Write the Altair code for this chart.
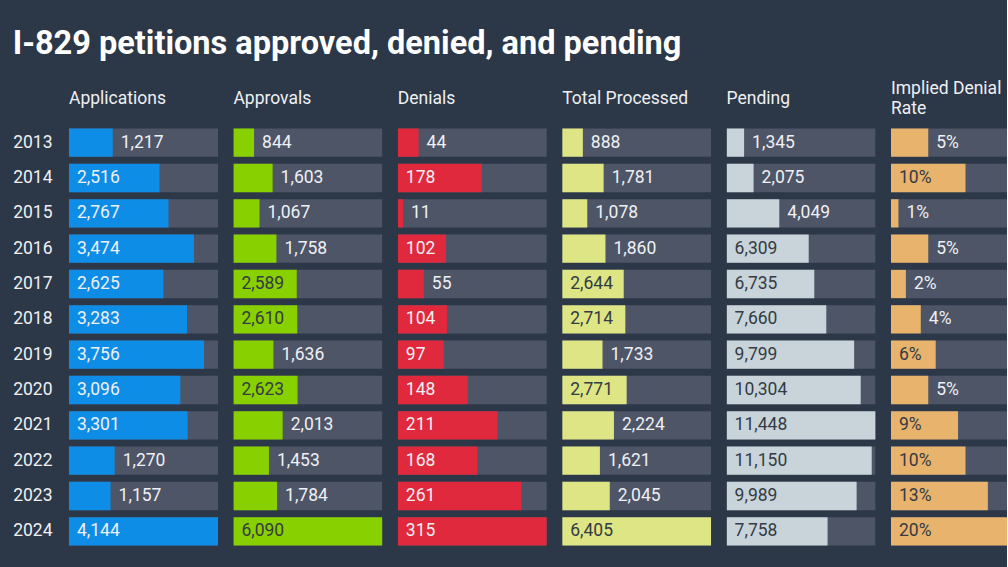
import altair as alt
import pandas as pd

years = [2013, 2014, 2015, 2016, 2017, 2018, 2019, 2020, 2021, 2022, 2023, 2024]
applications = [1217, 2516, 2767, 3474, 2625, 3283, 3756, 3096, 3301, 1270, 1157, 4144]
approvals = [844, 1603, 1067, 1758, 2589, 2610, 1636, 2623, 2013, 1453, 1784, 6090]
denials = [44, 178, 11, 102, 55, 104, 97, 148, 211, 168, 261, 315]
total_processed = [888, 1781, 1078, 1860, 2644, 2714, 1733, 2771, 2224, 1621, 2045, 6405]
pending = [1345, 2075, 4049, 6309, 6735, 7660, 9799, 10304, 11448, 11150, 9989, 7758]
denial_rate = [5, 10, 1, 5, 2, 4, 6, 5, 9, 10, 13, 20]

BG = "#2c3747"
TRACK = "#4e5567"
LIGHT = "#eef0f3"
DARK = "#343b44"
FONT = "Roboto"
FS = 17.5
PANEL_W = 149
LAST_W = 116
PANEL_H = 424

panels_spec = [
    ("Applications", applications, "#0e8de6", LIGHT, False),
    ("Approvals", approvals, "#88d000", DARK, False),
    ("Denials", denials, "#e0293d", LIGHT, False),
    ("Total Processed", total_processed, "#dde585", DARK, False),
    ("Pending", pending, "#c8d4da", DARK, False),
    (["Implied Denial", "Rate"], denial_rate, "#e8b36c", DARK, True),
]


def est_width(s):
    w = 0.0
    for ch in s:
        if ch.isdigit():
            w += 9.8
        elif ch == ",":
            w += 4.4
        else:
            w += 14.8
    return w


panels = []
n = len(panels_spec)
for i, (title, vals, color, in_color, pct) in enumerate(panels_spec):
    mx = max(vals)
    labels = [f"{v}%" if pct else f"{v:,}" for v in vals]
    inside = [v / mx * PANEL_W > est_width(l) + 14 for v, l in zip(vals, labels)]
    df = pd.DataFrame({
        "year": [str(y) for y in years],
        "value": vals,
        "full": [mx] * len(vals),
        "label": labels,
        "inside": inside,
        "labelx": [0 if ins else v for v, ins in zip(vals, inside)],
    })
    if i == 0:
        yaxis = alt.Axis(title=None, domain=False, ticks=False, labelPadding=17,
                         labelFontSize=FS, labelColor=LIGHT, labelFont=FONT)
    else:
        yaxis = None
    y = alt.Y("year:O", sort=[str(y) for y in years],
              scale=alt.Scale(paddingInner=0.2, paddingOuter=0.1), axis=yaxis)
    xscale = alt.Scale(nice=False, zero=True, range=[0, PANEL_W])
    is_last = i == n - 1
    base = alt.Chart(df)
    track = base.mark_bar(color=TRACK, clip=True).encode(
        y=y, x=alt.X("full:Q", scale=xscale, axis=None))
    bar = base.mark_bar(color=color, clip=True).encode(
        y=y, x=alt.X("value:Q", scale=xscale, axis=None))
    text = base.mark_text(align="left", baseline="middle", dx=8, fontSize=FS,
                          font=FONT, clip=True).encode(
        y=y,
        x=alt.X("labelx:Q", scale=xscale, axis=None),
        text="label:N",
        color=alt.condition("datum.inside", alt.value(in_color), alt.value(LIGHT)),
    )
    two_line = isinstance(title, list)
    panel = alt.layer(track, bar, text).properties(
        width=LAST_W if is_last else PANEL_W,
        height=PANEL_H,
        title=alt.TitleParams(text=title, anchor="start", frame="group", fontSize=FS,
                              font=FONT, fontWeight="normal", color=LIGHT, lineHeight=20,
                              offset=8 if two_line else 18),
    )
    panels.append(panel)

chart = alt.hconcat(*panels, spacing=15.4).properties(
    title=alt.TitleParams(
        text="I-829 petitions approved, denied, and pending",
        anchor="start", fontSize=32.5, font=FONT, fontWeight="bold",
        color="#ffffff", offset=19, dx=0,
    ),
    background=BG,
    padding={"left": 12, "top": 28, "right": 0, "bottom": 20},
).configure_view(strokeWidth=0).configure_concat(spacing=15.4)

chart.save("out.html", embed_options={"renderer": "svg", "actions": False})
